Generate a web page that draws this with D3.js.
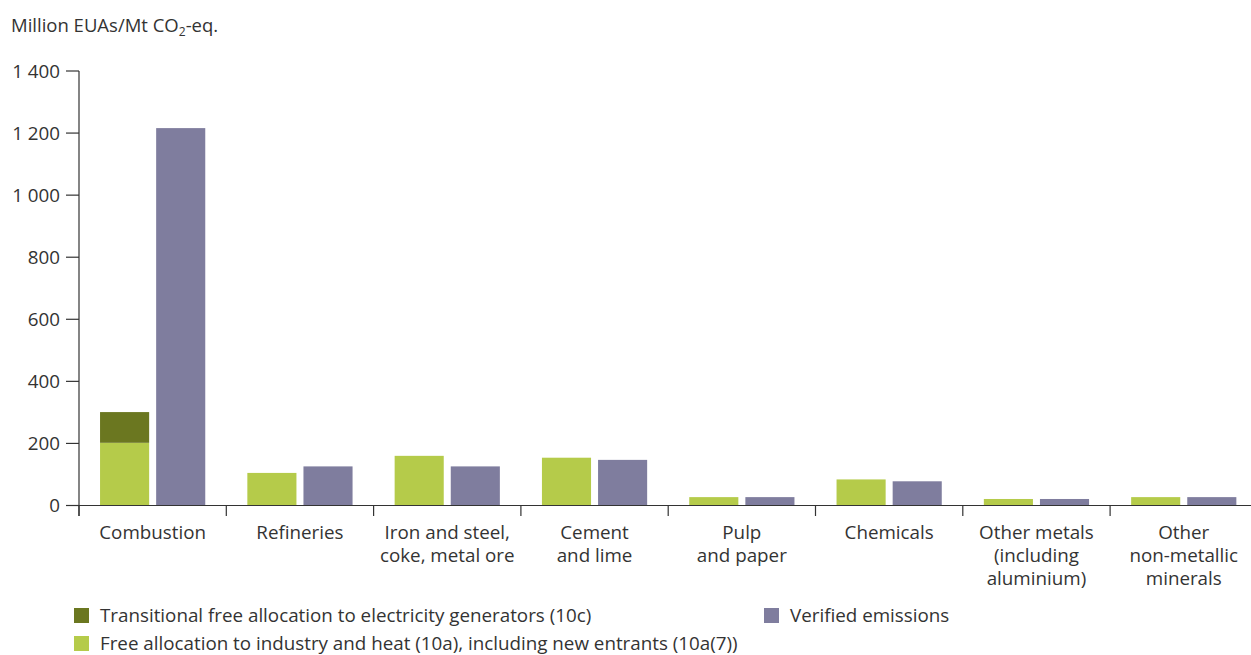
<!DOCTYPE html>
<html><head><meta charset="utf-8">
<script src="https://cdn.jsdelivr.net/npm/d3@7"></script>
<style>body{margin:0;background:#fff;} text{font-family:"Open Sans",sans-serif;fill:#333;}</style>
</head><body>
<svg id="chart" width="1251" height="655"></svg>
<script>
const categories = [["Combustion"],["Refineries"],["Iron and steel,","coke, metal ore"],["Cement","and lime"],["Pulp","and paper"],["Chemicals"],["Other metals","(including","aluminium)"],["Other","non-metallic","minerals"]];
const alloc10a = [202,105,160,154,27,84,21,27];
const alloc10c = [99,0,0,0,0,0,0,0];
const verified = [1216,126,126,147,27,78,21,27];
const yTicks = [0,200,400,600,800,1000,1200,1400];
const colors = {c10:"#6b7720", a10:"#b5cb4a", ver:"#7f7d9e"};

const svg = d3.select("#chart");
const x = d3.scaleBand().domain(d3.range(categories.length)).range([79, 79 + 8*147.3]).padding(0);
const inner = d3.scaleBand().domain(["alloc","ver"]).range([0, x.bandwidth()]).paddingInner(0.125).paddingOuter(0.375);
const y = d3.scaleLinear().domain([0,1400]).range([505.5, 71]);
const fmt = v => d3.format(",")(v).replace(/,/g, " ");
const FS = 18.8;

// y axis
const ax = svg.append("g").attr("stroke","#333").attr("stroke-width",1.2);
ax.append("line").attr("x1",79).attr("x2",79).attr("y1",y(1400)).attr("y2",516);
yTicks.forEach(t=>{
  ax.append("line").attr("x1",66).attr("x2",79).attr("y1",y(t)).attr("y2",y(t));
});
svg.selectAll(".ylab").data(yTicks).enter().append("text")
  .attr("x",60).attr("y",d=>y(d)+6.5).attr("text-anchor","end").attr("font-size",FS).text(fmt);

// bars
const g = svg.append("g");
categories.forEach((c,i)=>{
  const bx = x(i);
  g.append("rect").attr("x",bx+inner("alloc")).attr("width",inner.bandwidth())
    .attr("y",y(alloc10a[i])).attr("height",y(0)-y(alloc10a[i])).attr("fill",colors.a10);
  if(alloc10c[i]>0) g.append("rect").attr("x",bx+inner("alloc")).attr("width",inner.bandwidth())
    .attr("y",y(alloc10a[i]+alloc10c[i])).attr("height",y(alloc10a[i])-y(alloc10a[i]+alloc10c[i])).attr("fill",colors.c10);
  g.append("rect").attr("x",bx+inner("ver")).attr("width",inner.bandwidth())
    .attr("y",y(verified[i])).attr("height",y(0)-y(verified[i])).attr("fill",colors.ver);
});

// x axis
const xa = svg.append("g").attr("stroke","#333").attr("stroke-width",1.2);
xa.append("line").attr("x1",66).attr("x2",1251).attr("y1",y(0)).attr("y2",y(0));
d3.range(categories.length).forEach(i=>{
  xa.append("line").attr("x1",x(i)).attr("x2",x(i)).attr("y1",y(0)).attr("y2",516);
});
categories.forEach((c,i)=>{
  c.forEach((line,j)=>svg.append("text").attr("text-anchor","middle").attr("font-size",FS)
    .attr("x",x(i)+x.bandwidth()/2).attr("y",539 + j*23).text(line));
});

// y title
const tt = svg.append("text").attr("x",11).attr("y",32).attr("font-size",18.5);
tt.append("tspan").text("Million EUAs/Mt CO");
tt.append("tspan").attr("font-size",12).attr("dy",4).text("2");
tt.append("tspan").attr("dy",-4).text("-eq.");

// legend
const legend = [
  {label:"Transitional free allocation to electricity generators (10c)", color:colors.c10, x:74, y:608},
  {label:"Verified emissions", color:colors.ver, x:764, y:608},
  {label:"Free allocation to industry and heat (10a), including new entrants (10a(7))", color:colors.a10, x:74, y:636}
];
legend.forEach(l=>{
  svg.append("rect").attr("x",l.x).attr("y",l.y).attr("width",15).attr("height",15).attr("fill",l.color);
  svg.append("text").attr("x",l.x+26).attr("y",l.y+14).attr("font-size",FS).text(l.label);
});
</script>
</body></html>
